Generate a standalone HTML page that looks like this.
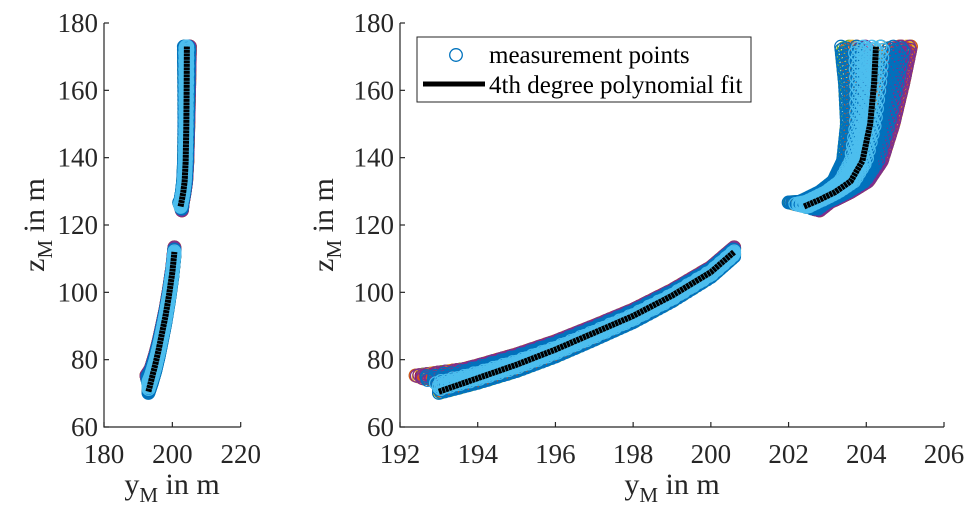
<!DOCTYPE html>
<html><head><meta charset="utf-8"><style>
body{margin:0;background:#fff;}
svg{display:block;font-family:"Liberation Serif",serif;}
</style></head><body>
<svg id="fig" width="978" height="520" viewBox="0 0 978 520"></svg>
<script>
// ---- data ----
const lowerFitY = [193, 194, 195, 196, 197, 198, 199, 200, 200.6];
const lowerFitZ = [70.5, 74.5, 78.5, 83, 88, 93, 99, 106, 112];
const lowerCenterZ = [2.2, 1.2, 0.6, 0.2, 0, 0, 0, 0, 0];
const lowerSpreadZ = [2.6, 2.6, 2.5, 2.3, 2.1, 1.9, 1.7, 1.5, 1.4];
const upperFitY = [202.4, 202.8, 203.2, 203.6, 203.9, 204.1, 204.2, 204.25];
const upperFitZ = [125.5, 127.5, 129.8, 133, 139, 150, 162, 173];
const upperSpreadY = [0.4, 0.4, 0.4, 0.45, 0.5, 0.6, 0.75, 0.9];
const seriesColors = ["#A2142F","#77AC30","#EDB120","#D95319","#7E2F8E","#0072BD","#4DBEEE"];
const seriesOffsets = [[0.9],[1.0,0.6,-0.85],[-0.6,0.2,0.95],[0.85,0.5,-0.7],[0.7,0.95,-0.3],[-0.95,-0.4,0.3,0.65],[-0.45,-0.2,0.05]];
const leftXTicks = [180, 200, 220];
const rightXTicks = [192, 194, 196, 198, 200, 202, 204, 206];
const yTicks = [60, 80, 100, 120, 140, 160, 180];

const NS = "http://www.w3.org/2000/svg";
const svg = document.getElementById("fig");
function mk(tag, attrs, parent){const e=document.createElementNS(NS,tag);for(const k in attrs)e.setAttribute(k,attrs[k]);(parent||svg).appendChild(e);return e;}

function makeAxes(name, x0, x1, xmin, xmax){
  const y0=427, y1=23, zmin=60, zmax=180;
  return {name, sx:v=>x0+(v-xmin)/(xmax-xmin)*(x1-x0), sy:v=>y0-(v-zmin)/(zmax-zmin)*(y0-y1), x0, x1, y0, y1};
}
const L = makeAxes("left", 104, 240.7, 180, 220);
const R = makeAxes("right", 400, 944, 192, 206);

function interp(arr, t){const n=arr.length-1;const p=t*n;const i=Math.min(Math.floor(p),n-1);const f=p-i;return arr[i]*(1-f)+arr[i+1]*f;}

function drawScatter(ax, g){
  const N=160;
  seriesColors.forEach((col, k)=>{
    const sg=mk("g",{},g);
    
    
    seriesOffsets[k].forEach((o,m)=>{
      for(let i=0;i<=N;i++){
        const t=i/N; const j=((i*7+k*3+m*5)%5-2)*0.08;
        const off=Math.max(-1,Math.min(1,o+j));
        const y=interp(lowerFitY,t), z=interp(lowerFitZ,t)+interp(lowerCenterZ,t)+off*interp(lowerSpreadZ,t);
        const ext=t<0.08?(1-t/0.08)*0.6*Math.max(0,off):0;
        mk("circle",{cx:ax.sx(y-ext),cy:ax.sy(z),r:6.3,fill:"none",stroke:col,"stroke-width":1.2},sg);
        const y2=interp(upperFitY,t)+off*interp(upperSpreadY,t), z2=interp(upperFitZ,t)+(t<0.1?-off*1.2*(1-t/0.1):0);
        mk("circle",{cx:ax.sx(y2),cy:ax.sy(z2),r:6.3,fill:"none",stroke:col,"stroke-width":1.2},sg);
      }
    });
  });
}
function drawFit(ax, g){
  [[lowerFitY,lowerFitZ],[upperFitY,upperFitZ]].forEach((s,si)=>{
    const pts=s[0].map((v,i)=>ax.sx(v)+","+ax.sy(s[1][i])).join(" ");
    const p=mk("polyline",{points:pts,fill:"none",stroke:"#000","stroke-width":6,"stroke-linejoin":"round","stroke-dasharray":"3 0.5"},g);
    
    
  });
}
function drawAxes(ax, xticks, g){
  const a=mk("path",{d:`M${ax.x0},${ax.y1}V${ax.y0}H${ax.x1}`,fill:"none",stroke:"#262626","stroke-width":1.2},g);
  
  
  yTicks.forEach(v=>{
    mk("line",{x1:ax.x0,x2:ax.x0+5,y1:ax.sy(v),y2:ax.sy(v),stroke:"#262626","stroke-width":1.2},g);
    const t=mk("text",{x:ax.x0-6,y:ax.sy(v)+9,"text-anchor":"end","font-size":27,fill:"#262626"},g);
    t.textContent=v;
    
    
  });
  xticks.forEach(v=>{
    mk("line",{x1:ax.sx(v),x2:ax.sx(v),y1:ax.y0,y2:ax.y0-5,stroke:"#262626","stroke-width":1.2},g);
    const t=mk("text",{x:ax.sx(v),y:463,"text-anchor":"middle","font-size":27,fill:"#262626"},g);
    t.textContent=v;
    
    
  });
}
function labels(ax, xlx, ylx, yly, g){
  const xl=mk("text",{x:xlx,y:494,"text-anchor":"middle","font-size":30,fill:"#262626"},g);
  xl.innerHTML='y<tspan font-size="21" dy="8">M</tspan><tspan dy="-8"> in m</tspan>';
  
  
  const yl=mk("text",{x:0,y:0,"text-anchor":"middle","font-size":30,fill:"#262626",transform:`translate(${ylx},${yly}) rotate(-90)`},g);
  yl.innerHTML='z<tspan font-size="21" dy="8">M</tspan><tspan dy="-8"> in m</tspan>';
  
  
}

[[L,leftXTicks,172,44,225],[R,rightXTicks,672,333,225]].forEach(([ax,xt,xlx,ylx,yly])=>{
  const g=mk("g",{});
  
  
  drawScatter(ax,g);
  drawFit(ax,g);
  drawAxes(ax,xt,g);
  labels(ax,xlx,ylx,yly,g);
});

// legend
const lg=mk("g",{});


mk("rect",{x:417,y:37,width:334,height:65,fill:"#fff",stroke:"#262626","stroke-width":1},lg);
mk("circle",{cx:456,cy:55,r:6.3,fill:"none",stroke:"#0072BD","stroke-width":1.3},lg);
mk("line",{x1:423,x2:485,y1:84,y2:84,stroke:"#000","stroke-width":5},lg);
const t1=mk("text",{x:489,y:63,"font-size":25,fill:"#000"},lg);t1.textContent="measurement points";


const t2=mk("text",{x:489,y:93,"font-size":25,fill:"#000"},lg);t2.textContent="4th degree polynomial fit";


</script>
</body></html>
